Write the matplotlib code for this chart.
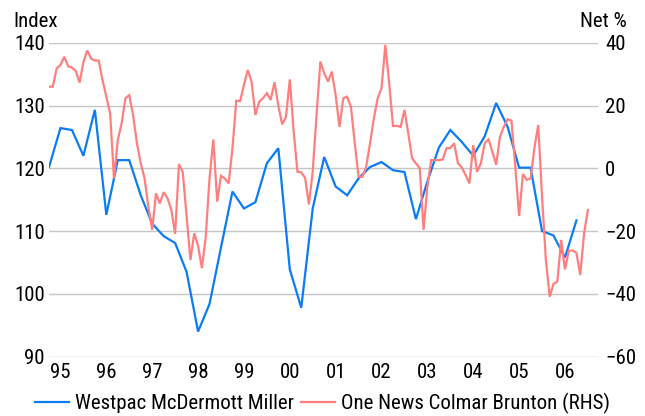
import numpy as np
import matplotlib
matplotlib.use('Agg')
import matplotlib.pyplot as plt
from matplotlib import font_manager

# ── DATA ──────────────────────────────────────────────────────────────────────
# Westpac McDermott Miller consumer confidence (quarterly, index)
westpac = [120.2, 126.4, 126.1, 122.0, 129.3, 112.6, 121.3, 121.3, 115.7, 111.2,
           109.2, 108.1, 103.5, 94.0, 98.4, 107.4, 116.3, 113.6, 114.6, 120.8,
           123.2, 103.9, 97.8, 113.6, 121.8, 117.1, 115.7, 118.4, 120.2, 121.0,
           119.7, 119.4, 111.9, 117.9, 123.3, 126.1, 124.2, 122.0, 125.1, 130.4,
           126.6, 120.1, 120.1, 110.0, 109.3, 105.8, 111.7]

# One News Colmar Brunton (monthly, net %)
colmar = [26.0, 26.0, 31.8, 32.9, 35.5, 32.5, 32.1, 31.0, 27.3, 33.8,
          37.5, 35.0, 34.3, 34.3, 28.1, 22.8, 17.5, -3.2, 9.0, 14.3,
          22.3, 23.3, 17.0, 8.0, 1.6, -3.2, -12.2, -19.6, -8.0, -11.2,
          -7.6, -9.5, -13.2, -20.9, 1.3, -1.2, -15.4, -29.2, -20.7, -24.7,
          -31.8, -22.0, -3.2, 9.2, -10.6, -2.4, -3.2, -4.8, 6.4, 21.5,
          21.4, 26.5, 31.3, 27.6, 17.0, 21.2, 22.3, 23.9, 21.8, 27.4,
          20.0, 14.0, 16.3, 28.3, 12.0, -1.1, -1.3, -3.0, -11.5, -1.0,
          17.0, 34.0, 30.3, 27.6, 30.8, 23.3, 13.2, 22.3, 22.8, 19.6,
          8.0, -2.7, -2.7, 0.5, 8.0, 15.9, 22.3, 25.5, 39.3, 27.1,
          13.5, 13.5, 13.2, 18.6, 11.1, 3.2, 1.6, 0.0, -19.6, -5.9,
          2.6, 2.6, 2.6, 2.8, 6.4, 6.4, 8.0, 1.6, 0.3, -2.1,
          -4.8, 7.4, -1.1, 1.6, 8.0, 9.2, 5.3, 1.1, 10.1, 13.2,
          15.6, 15.2, 0.5, -15.2, -1.8, -3.7, -3.2, 6.4, 13.8, -9.0,
          -29.2, -40.9, -36.8, -36.1, -22.8, -32.2, -26.2, -26.2, -26.9, -34.0,
          -20.7, -13.3]

year_labels = ['95', '96', '97', '98', '99', '00', '01', '02', '03', '04', '05', '06']

start = 1995.25  # Mar 1995
westpac_t = start + 0.25 * np.arange(len(westpac))
colmar_t = start + np.arange(len(colmar)) / 12

# ── FONT: narrow sans if there is one, else Liberation Sans ───────────────────
available = {f.name for f in font_manager.fontManager.ttflist}
fs = 13.5
family = 'Liberation Sans'
for name, size in [('Liberation Sans Narrow', 16.5), ('Arial Narrow', 16.5),
                   ('Roboto Condensed', 15.0), ('Archivo Narrow', 15.0)]:
    if name in available:
        family, fs = name, size
        break
plt.rcParams['font.family'] = [family, 'DejaVu Sans']

BLUE = '#0a7cf5'
RED = '#ff7f7f'
GRID = '#c6c6c6'

# ── PLOT ──────────────────────────────────────────────────────────────────────
fig = plt.figure(figsize=(6.45, 4.16), dpi=100)
ax = fig.add_axes([49 / 645, 1 - 356.7 / 416, (598 - 49) / 645, (356.7 - 42.7) / 416])
ax2 = ax.twinx()

l1, = ax.plot(westpac_t, westpac, color=BLUE, lw=1.6, solid_joinstyle='miter')
l2, = ax2.plot(colmar_t, colmar, color=RED, lw=1.6, solid_joinstyle='miter')

ax.set_xlim(1995.25, 2007.22)
ax.set_ylim(90, 140)
ax2.set_ylim(-60, 40)
ax.set_yticks(np.arange(90, 141, 10))
ax2.set_yticks(np.arange(-60, 41, 20))
ax.set_xticks([1995.5 + i for i in range(len(year_labels))])
ax.set_xticklabels(year_labels)

ax.grid(axis='y', color=GRID, lw=1)
ax.set_axisbelow(True)
for a in (ax, ax2):
    for s in a.spines.values():
        s.set_visible(False)
ax.tick_params(axis='both', length=0, labelsize=fs)
ax.tick_params(axis='y', pad=3)
ax.tick_params(axis='x', pad=4.5)
ax2.tick_params(axis='y', length=0, labelsize=fs, pad=5)

fig.text(13 / 645, 1 - 27 / 416, 'Index', ha='left', va='baseline', fontsize=fs)
fig.text(627 / 645, 1 - 27 / 416, 'Net %', ha='right', va='baseline', fontsize=fs)

fig.legend([l1, l2], ['Westpac McDermott Miller', 'One News Colmar Brunton (RHS)'],
           loc='center', bbox_to_anchor=(0.5, 1 - 403 / 416), ncol=2, frameon=False,
           fontsize=fs, handlelength=1.63, handletextpad=0.29, columnspacing=0.38,
           borderpad=0, borderaxespad=0)

fig.savefig('out.png', dpi=100)
